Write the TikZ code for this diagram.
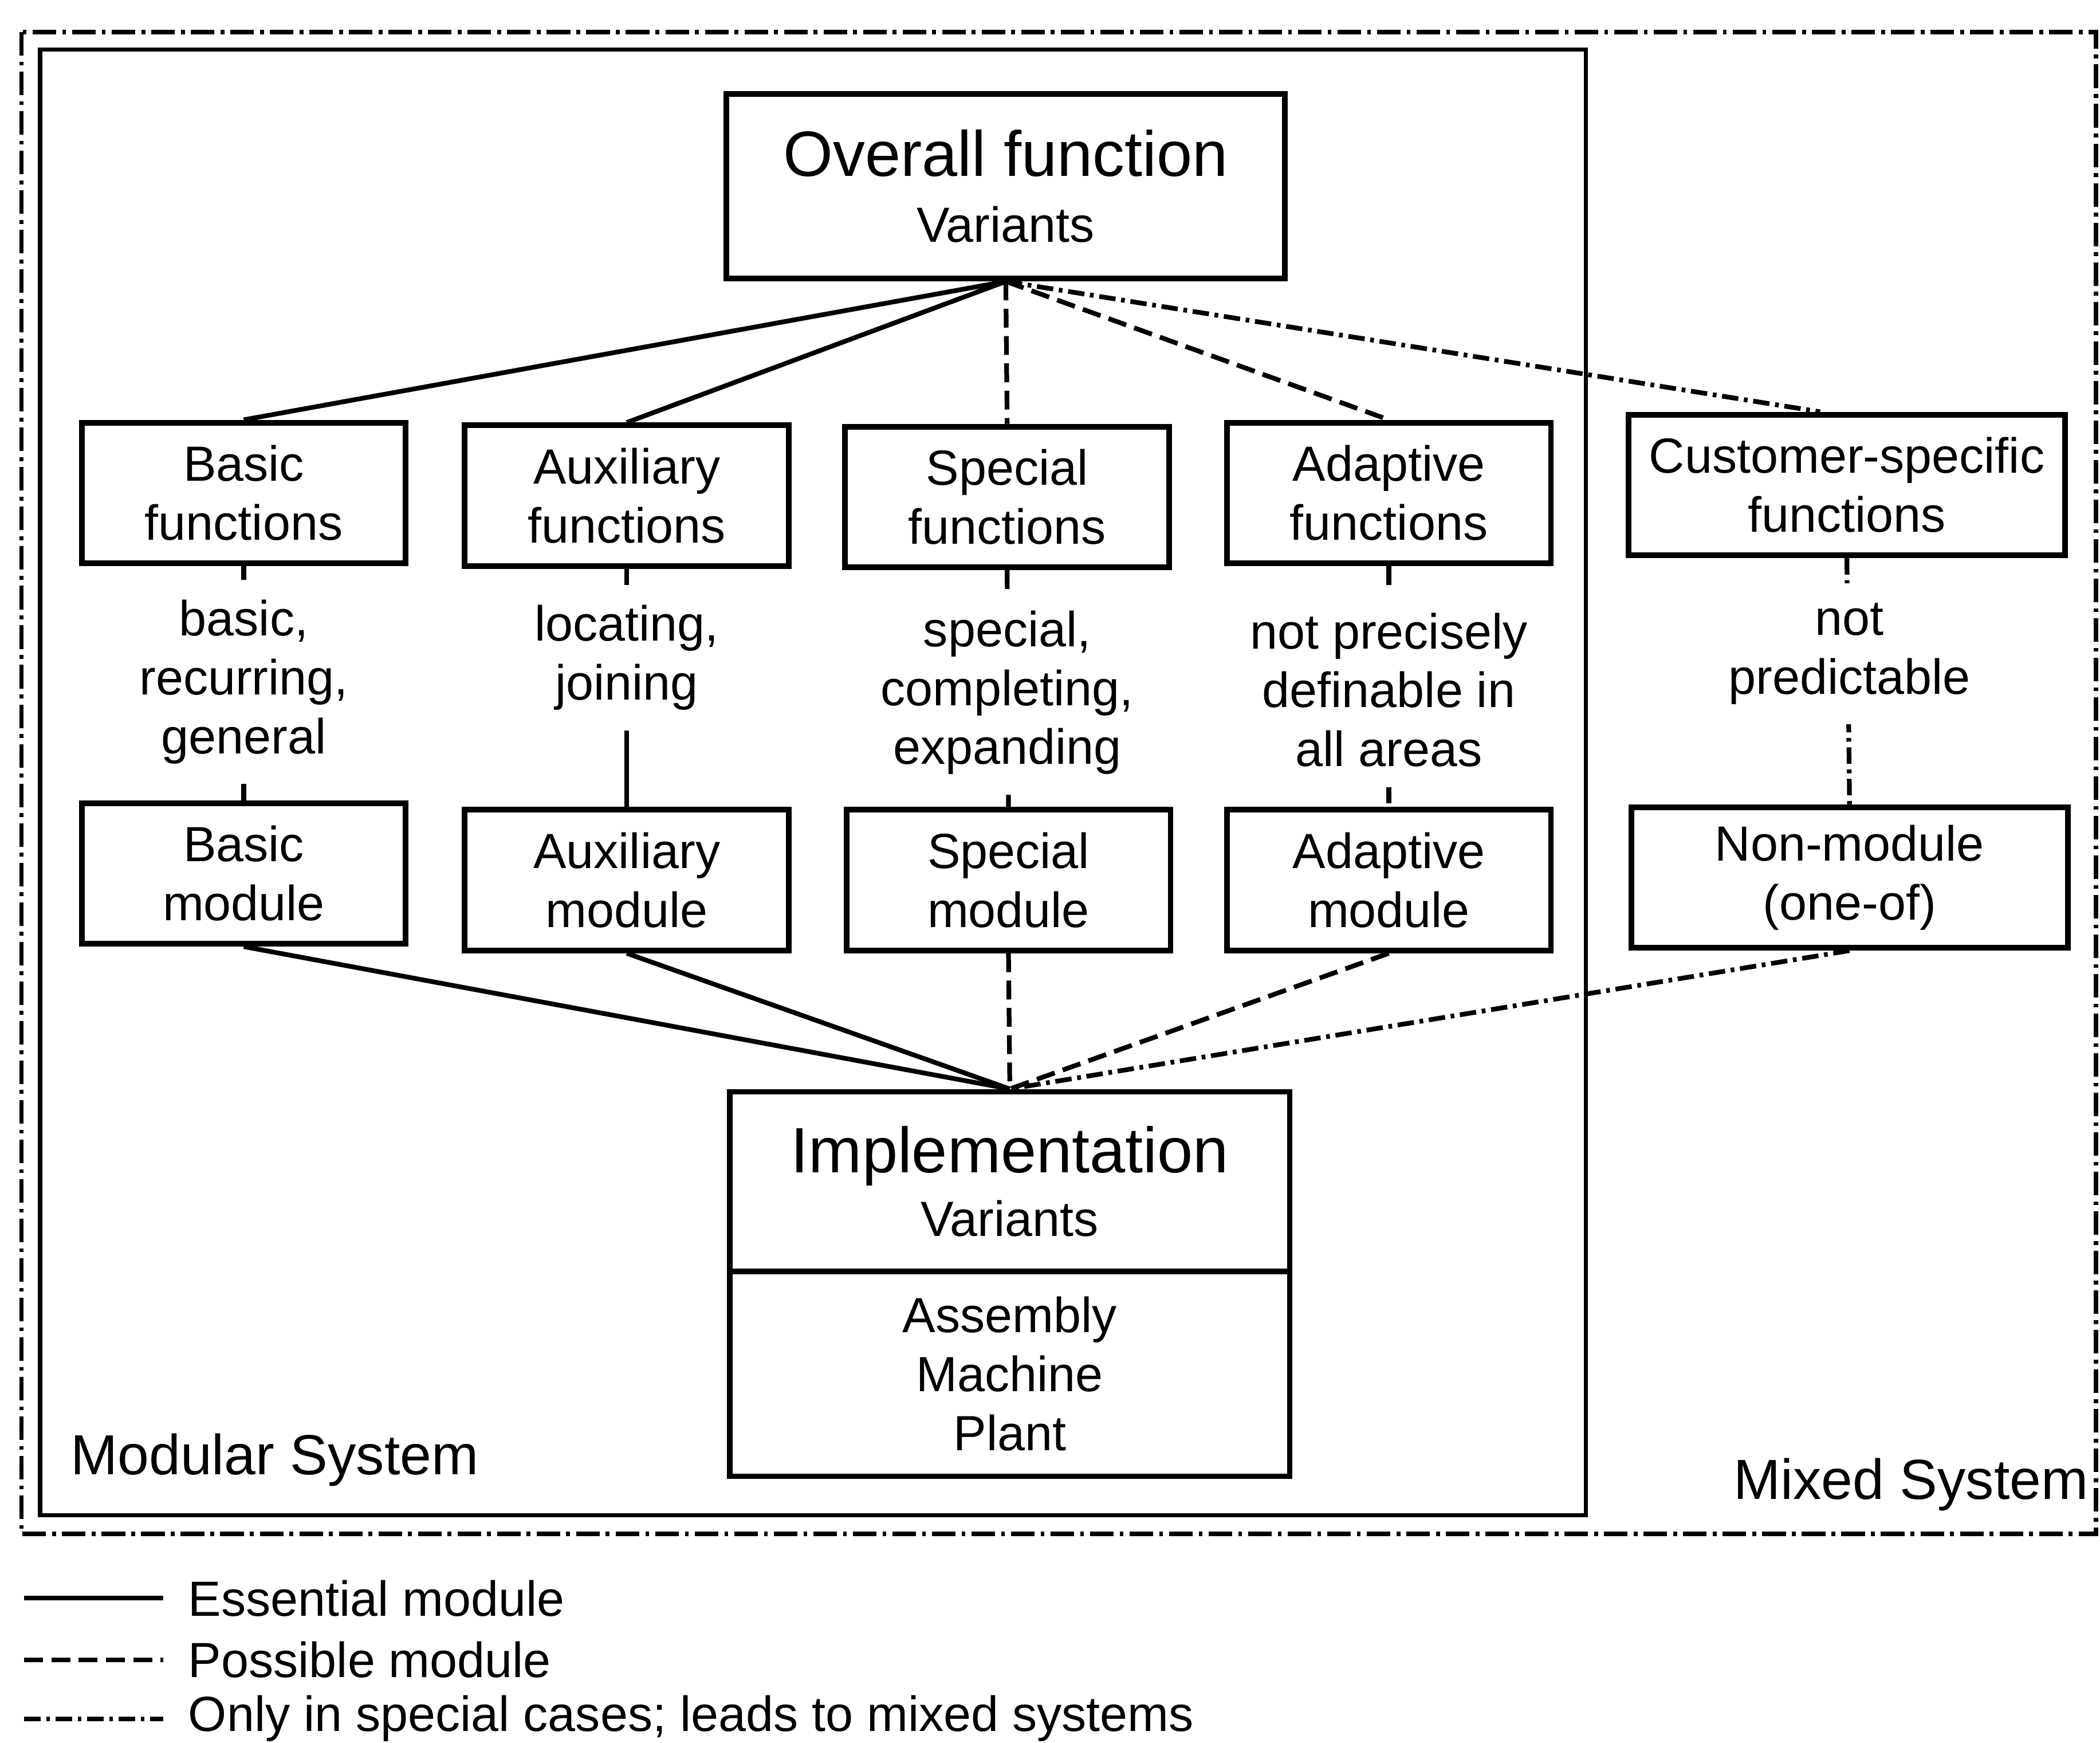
\documentclass[tikz,border=0pt]{standalone}
\usepackage{fontspec}
\setmainfont{Liberation Sans}
\usetikzlibrary{positioning}
\tikzset{
    % Box styles
    box/.style={rectangle, draw, line width=1.2pt, minimum width=2.42cm, minimum height=1.05cm,
                inner sep=1pt, align=center, font=\fontsize{10.5}{12.5}\selectfont},
    wide box/.style={box, minimum width=3.26cm},
    big box/.style={box, minimum width=4.17cm, font=\fontsize{10.5}{14}\selectfont},
    desc/.style={fill=white, inner sep=1.5mm, align=center, font=\fontsize{10.5}{12.5}\selectfont},
    % Line styles
    essential/.style={line width=1pt},
    possible/.style={line width=1pt, dash pattern=on 4pt off 1.8pt},
    special case/.style={line width=1pt, dash pattern=on 3.5pt off 1.2pt on 0.8pt off 1.2pt},
    % Labels
    system label/.style={font=\fontsize{12}{14}\selectfont, inner sep=0pt},
    legend text/.style={font=\fontsize{10.5}{12.5}\selectfont, inner sep=0pt, anchor=west},
}

\begin{document}
\begin{tikzpicture}[x=0.1mm, y=-0.1mm]
    \useasboundingbox (0,0) rectangle (1568,1301);

    % System frames
    \draw[special case, line width=0.9pt, dash pattern=on 5pt off 1.3pt on 0.8pt off 1.3pt] (16,24) rectangle (1565,1145);
    \draw[line width=0.9pt] (30,37) rectangle (1184,1131);
    \node[system label, anchor=west] (modular) at (52,1090) {Modular System};
    \node[system label, anchor=east] (mixed) at (1560,1108) {Mixed System};

    % Overall function
    \node[big box, minimum height=1.38cm] (overall) at (751,139) {{\fontsize{13.6}{16}\selectfont Overall function}\\Variants};

    % Functions
    \node[box] (basicf) at (182,368) {Basic\\functions};
    \node[box] (auxf) at (468,370) {Auxiliary\\functions};
    \node[box] (specf) at (752,371) {Special\\functions};
    \node[box] (adaptf) at (1037,368) {Adaptive\\functions};
    \node[wide box] (custf) at (1379,362) {Customer-specific\\functions};

    % Modules
    \node[box] (basicm) at (182,652) {Basic\\module};
    \node[box] (auxm) at (468,657) {Auxiliary\\module};
    \node[box] (specm) at (753,657) {Special\\module};
    \node[box] (adaptm) at (1037,657) {Adaptive\\module};
    \node[wide box] (nonm) at (1381,655) {Non-module\\(one-of)};

    % Implementation
    \node[big box, minimum width=4.18cm, minimum height=1.34cm, font=\fontsize{10.5}{13.5}\selectfont] (impl) at (754,882) {{\fontsize{13.6}{16}\selectfont Implementation}\\Variants};
    \node[big box, minimum width=4.18cm, minimum height=1.53cm, font=\fontsize{10.5}{12.5}\selectfont] (implparts) at (754,1025.5) {Assembly\\Machine\\Plant};

    % Overall function to functions
    \draw[essential] (overall.south) -- (basicf.north);
    \draw[essential] (overall.south) -- (auxf.north);
    \draw[possible] (overall.south) -- (specf.north);
    \draw[possible] (overall.south) -- (adaptf.north);
    \draw[special case] (overall.south) -- ([xshift=-2mm]custf.north);

    % Functions to modules
    \draw[essential] (basicf.south) -- (basicm.north);
    \draw[essential] (auxf.south) -- (auxm.north);
    \draw[possible] (specf.south) -- (specm.north);
    \draw[possible] (adaptf.south) -- (adaptm.north);
    \draw[special case] (custf.south) -- (nonm.north);

    % Modules to implementation
    \draw[essential] (basicm.south) -- (impl.north);
    \draw[essential] (auxm.south) -- (impl.north);
    \draw[possible] (specm.south) -- (impl.north);
    \draw[possible] (adaptm.south) -- (impl.north);
    \draw[special case] (nonm.south) -- (impl.north);

    % Descriptions
    \node[desc] (basicd) at (182,509) {basic,\\recurring,\\general};
    \node[desc] (auxd) at (468,491) {locating,\\joining};
    \node[desc] (specd) at (752,517) {special,\\completing,\\expanding};
    \node[desc] (adaptd) at (1037,515) {not precisely\\definable in\\all areas};
    \node[desc] (custd) at (1381,488) {not\\predictable};

    % Legend
    \node[legend text] (essential text) at (140,1193) {Essential module};
    \node[legend text] (possible text) at (140,1239) {Possible module};
    \node[legend text] (special text) at (140,1283) {Only in special cases; leads to mixed systems};
    \coordinate (essential start) at (18,1193);
    \coordinate (possible start) at (18,1239);
    \coordinate (special start) at (18,1283);
    \draw[essential] (essential start) -- ([xshift=-1.8mm]essential text.west);
    \draw[possible] (possible start) -- ([xshift=-1.8mm]possible text.west);
    \draw[special case] (special start) -- ([xshift=-1.8mm]special text.west);
\end{tikzpicture}
\end{document}
